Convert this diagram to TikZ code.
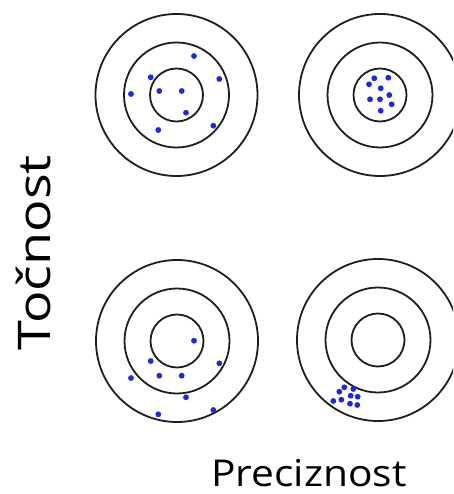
\documentclass[tikz,border=0pt]{standalone}
\usepackage{fontspec}
\setmainfont{Open Sans}
\definecolor{ringcol}{RGB}{30,30,30}
\definecolor{dotcol}{RGB}{30,40,225}
\begin{document}
\begin{tikzpicture}[x=1pt,y=-1pt,
  ring/.style={draw=ringcol,line width=1.8pt},
  hit/.style={fill=dotcol},
  axislabel/.style={inner sep=0pt,text=black}]
\clip (0,0) rectangle (453,494);
\fill[white] (0,0) rectangle (453,494);
% target centres
\coordinate (tl) at (176.5,95);
\coordinate (tr) at (380,95);
\coordinate (bl) at (177,341);
\coordinate (br) at (378,340);
\foreach \c in {tl,tr,bl,br}{
  \draw[ring] (\c) circle[radius=26.5pt];
  \draw[ring] (\c) circle[radius=52.5pt];
  \draw[ring] (\c) circle[radius=81pt];
}
% hits
\foreach \p in {(194,56),(150.7,77.3),(219.3,79),(131,94),(159.3,91),(181.7,91),(186,112.7),(158.3,130),(213.3,125.7),
  (194,340.7),(150.7,361),(219.3,363.3),(131,378),(159.3,375.7),(181.7,375.7),(186,397.3),(158.3,414.3),(213.3,410),
  (374.3,78.3),(388.3,77.7),(369,84.3),(380.7,88.3),(389.3,95),(370,99.3),(380,99.3),(391.7,104.3),(380.7,110.7),
  (344.3,387.3),(353.3,389),(339.3,391.7),(350.7,395.7),(357.7,396.7),(333.3,401),(341.3,399.7),(350,403.7),(357.3,405)}
  \fill[hit] \p circle[radius=2.9pt];
% labels
\node[axislabel,anchor=base] (prec) at (309,486) {\scalebox{1.1}[1]{\fontsize{37}{40}\selectfont Preciznost}};
\node[axislabel,anchor=base,rotate=90] (toc) at (50,252.5) {\scalebox{1.2}[1]{\fontsize{45}{50}\selectfont Točnost}};
\end{tikzpicture}
\end{document}
